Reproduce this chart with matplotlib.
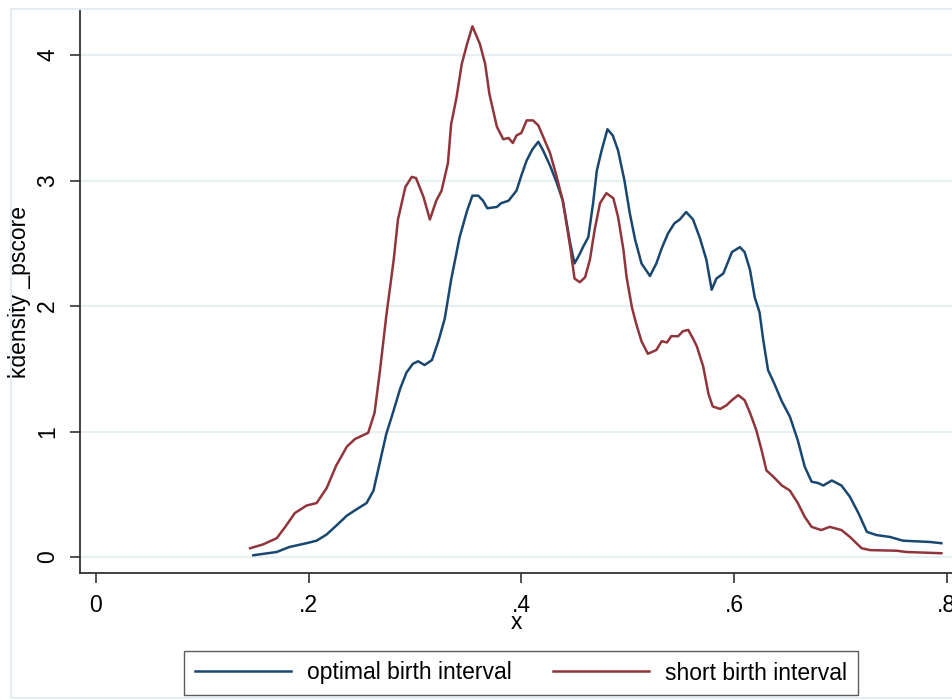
import matplotlib.pyplot as plt
from matplotlib.patches import Rectangle

plt.rcParams['font.family'] = ['Liberation Sans', 'DejaVu Sans']

# kdensity of _pscore
opt_x = [0.148, 0.170, 0.182, 0.198, 0.2075, 0.217, 0.226, 0.236, 0.245, 0.2545,
         0.261, 0.2655, 0.273, 0.280, 0.286, 0.292, 0.298, 0.303, 0.309, 0.316,
         0.322, 0.328, 0.334, 0.342, 0.349, 0.354, 0.3595, 0.364, 0.368, 0.377,
         0.381, 0.388, 0.3955, 0.400, 0.405, 0.4105, 0.416, 0.4205, 0.427, 0.433,
         0.439, 0.446, 0.450, 0.454, 0.458, 0.463, 0.4675, 0.471, 0.4755, 0.481,
         0.486, 0.491, 0.497, 0.502, 0.507, 0.513, 0.521, 0.527, 0.532, 0.538,
         0.544, 0.549, 0.555, 0.5615, 0.568, 0.574, 0.579, 0.5835, 0.590, 0.598,
         0.6055, 0.610, 0.615, 0.6195, 0.624, 0.6275, 0.632, 0.638, 0.645, 0.6525,
         0.660, 0.6665, 0.673, 0.679, 0.684, 0.692, 0.701, 0.709, 0.717, 0.725,
         0.734, 0.7465, 0.759, 0.784, 0.795]
opt_y = [0.014, 0.04, 0.08, 0.11, 0.13, 0.18, 0.25, 0.33, 0.38, 0.43,
         0.53, 0.70, 0.98, 1.17, 1.34, 1.47, 1.54, 1.56, 1.53, 1.57,
         1.72, 1.90, 2.21, 2.55, 2.76, 2.88, 2.88, 2.84, 2.78, 2.79,
         2.82, 2.84, 2.92, 3.04, 3.16, 3.25, 3.31, 3.24, 3.12, 2.99,
         2.84, 2.50, 2.34, 2.40, 2.47, 2.55, 2.82, 3.08, 3.24, 3.41,
         3.36, 3.24, 3.00, 2.74, 2.53, 2.34, 2.24, 2.34, 2.46, 2.58,
         2.66, 2.69, 2.75, 2.69, 2.54, 2.37, 2.13, 2.22, 2.26, 2.43,
         2.47, 2.43, 2.29, 2.07, 1.95, 1.73, 1.49, 1.38, 1.24, 1.12,
         0.93, 0.72, 0.60, 0.59, 0.57, 0.61, 0.57, 0.48, 0.35, 0.20,
         0.175, 0.16, 0.13, 0.12, 0.11]

short_x = [0.145, 0.157, 0.170, 0.178, 0.187, 0.198, 0.2075, 0.217, 0.226, 0.236,
           0.2435, 0.256, 0.262, 0.267, 0.273, 0.280, 0.284, 0.291, 0.297, 0.301,
           0.308, 0.314, 0.320, 0.325, 0.331, 0.334, 0.339, 0.344, 0.349, 0.354,
           0.361, 0.366, 0.370, 0.377, 0.383, 0.388, 0.392, 0.3955, 0.400, 0.405,
           0.411, 0.416, 0.4205, 0.427, 0.433, 0.439, 0.446, 0.450, 0.455, 0.460,
           0.4645, 0.469, 0.474, 0.480, 0.4865, 0.491, 0.496, 0.499, 0.504, 0.508,
           0.513, 0.519, 0.527, 0.532, 0.537, 0.541, 0.5475, 0.552, 0.557, 0.5615,
           0.565, 0.571, 0.576, 0.580, 0.587, 0.593, 0.598, 0.604, 0.610, 0.615,
           0.621, 0.626, 0.6305, 0.637, 0.645, 0.6525, 0.660, 0.6665, 0.673, 0.682,
           0.690, 0.701, 0.709, 0.720, 0.728, 0.753, 0.762, 0.795]
short_y = [0.07, 0.10, 0.15, 0.24, 0.35, 0.41, 0.43, 0.55, 0.73, 0.88,
           0.94, 0.99, 1.15, 1.48, 1.92, 2.37, 2.69, 2.95, 3.03, 3.02,
           2.87, 2.69, 2.84, 2.92, 3.14, 3.45, 3.66, 3.93, 4.09, 4.23,
           4.09, 3.93, 3.69, 3.43, 3.33, 3.34, 3.30, 3.36, 3.38, 3.48,
           3.48, 3.44, 3.35, 3.22, 3.04, 2.84, 2.47, 2.22, 2.19, 2.23,
           2.37, 2.61, 2.82, 2.90, 2.86, 2.71, 2.45, 2.23, 1.99, 1.86,
           1.72, 1.62, 1.65, 1.72, 1.71, 1.76, 1.76, 1.80, 1.81, 1.74,
           1.68, 1.52, 1.30, 1.20, 1.18, 1.21, 1.25, 1.29, 1.25, 1.15,
           1.01, 0.85, 0.69, 0.64, 0.57, 0.53, 0.43, 0.32, 0.24, 0.215,
           0.24, 0.215, 0.16, 0.07, 0.055, 0.05, 0.04, 0.03]

x_ticks = [0, 0.2, 0.4, 0.6, 0.8]
x_labels = ['0', '.2', '.4', '.6', '.8']
y_ticks = [0, 1, 2, 3, 4]

fs = 16.5

fig = plt.figure(figsize=(9.52, 7.0), dpi=100)
# outer graph region frame (stata style)
fig.patches.append(Rectangle((11 / 952, 2 / 700), 1.2, 689 / 700, transform=fig.transFigure,
                             fill=False, edgecolor='#e4edf1', lw=1.5))

ax = fig.add_axes([80 / 952, 127 / 700, 872 / 952, 563 / 700])
ax.plot(opt_x, opt_y, color='#1a476f', lw=1.8, label='optimal birth interval')
ax.plot(short_x, short_y, color='#90353b', lw=1.8, label='short birth interval')

ax.set_xlim(-0.015, 0.805)
ax.set_ylim(-0.1275, 4.36)
ax.set_xticks(x_ticks)
ax.set_xticklabels(x_labels)
ax.set_yticks(y_ticks)
ax.set_yticklabels([str(v) for v in y_ticks], rotation=90, va='center')
ax.grid(axis='y', color='#e6eff2', lw=1.6)
ax.set_axisbelow(True)
for s in ['top', 'right']:
    ax.spines[s].set_visible(False)
for s in ['left', 'bottom']:
    ax.spines[s].set_color('#333333')
    ax.spines[s].set_linewidth(1.3)
ax.tick_params(axis='both', labelsize=fs, length=7, width=1.2, color='#333333', pad=8)

ax.set_xlabel('x', fontsize=fs, labelpad=-4)
ax.set_ylabel('kdensity _pscore', fontsize=fs, labelpad=4)

leg = fig.legend(loc='center', bbox_to_anchor=(521 / 952, 1 - 673 / 700), ncol=2,
                 fontsize=fs, frameon=True, fancybox=False, handlelength=4.2,
                 handletextpad=0.7, columnspacing=1.8, borderpad=0.45)
leg.get_frame().set_edgecolor('#333333')
leg.get_frame().set_linewidth(1.0)

plt.savefig('out.png', dpi=100)
plt.close()
